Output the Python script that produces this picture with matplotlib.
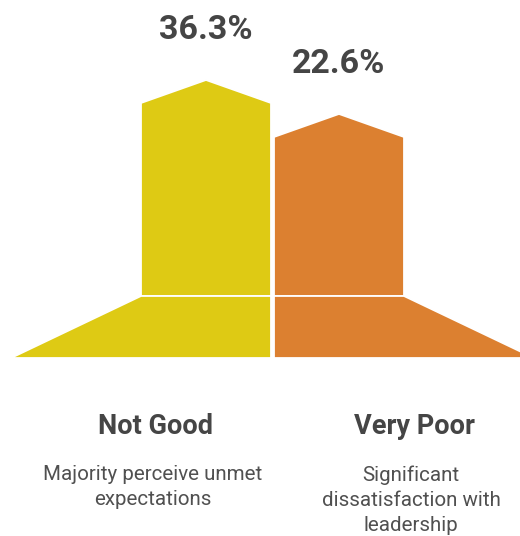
import matplotlib.pyplot as plt
from matplotlib.patches import Polygon

categories = ["Not Good", "Very Poor"]
values = [36.3, 22.6]
value_labels = ["36.3%", "22.6%"]
descriptions = ["Majority perceive unmet\nexpectations",
                "Significant\ndissatisfaction with\nleadership"]
colors = ["#DECA14", "#DC8030"]

plt.rcParams['font.family'] = ['Roboto', 'DejaVu Sans']
text_color = "#454545"

fig = plt.figure(figsize=(5.2, 5.36), dpi=100)
ax = fig.add_axes([0, 0, 1, 1])
ax.set_xlim(0, 520)
ax.set_ylim(536, 0)
ax.axis('off')

# layout in pixel-like units (y grows downward)
base_top, base_bot = 296, 358
bar_w = 130
lefts = [141, 274]
roof = 23
slope_dx = 130
px_per_unit = 2.48
offset = 103

for i, (v, c) in enumerate(zip(values, colors)):
    x0 = lefts[i]
    x1 = x0 + bar_w
    xc = (x0 + x1) / 2
    shoulder = base_top - (offset + px_per_unit * v)
    peak = shoulder - roof
    body = Polygon([(x0, base_top), (x0, shoulder), (xc, peak), (x1, shoulder), (x1, base_top)],
                   closed=True, facecolor=c, edgecolor='white', linewidth=1.3)
    ax.add_patch(body)

    if i == 0:
        base = [(x0 - slope_dx, base_bot), (x0, base_top), (x1, base_top), (x1, base_bot)]
    else:
        base = [(x0, base_bot), (x0, base_top), (x1, base_top), (x1 + slope_dx, base_bot)]
    ax.add_patch(Polygon(base, closed=True, facecolor=c, edgecolor='white', linewidth=1.3))

    ax.text(xc, peak - 50, value_labels[i], ha='center', va='center',
            fontsize=24.5, fontweight='bold', color=text_color)

label_x = [156, 414]
for i, cat in enumerate(categories):
    ax.text(label_x[i], 427, cat, ha='center', va='center',
            fontsize=19.5, fontweight='bold', color=text_color)
    ax.text(label_x[i] - 3, 465, descriptions[i], ha='center', va='top',
            fontsize=14.8, color="#505050", linespacing=1.4)

fig.savefig('out.png', dpi=100)
